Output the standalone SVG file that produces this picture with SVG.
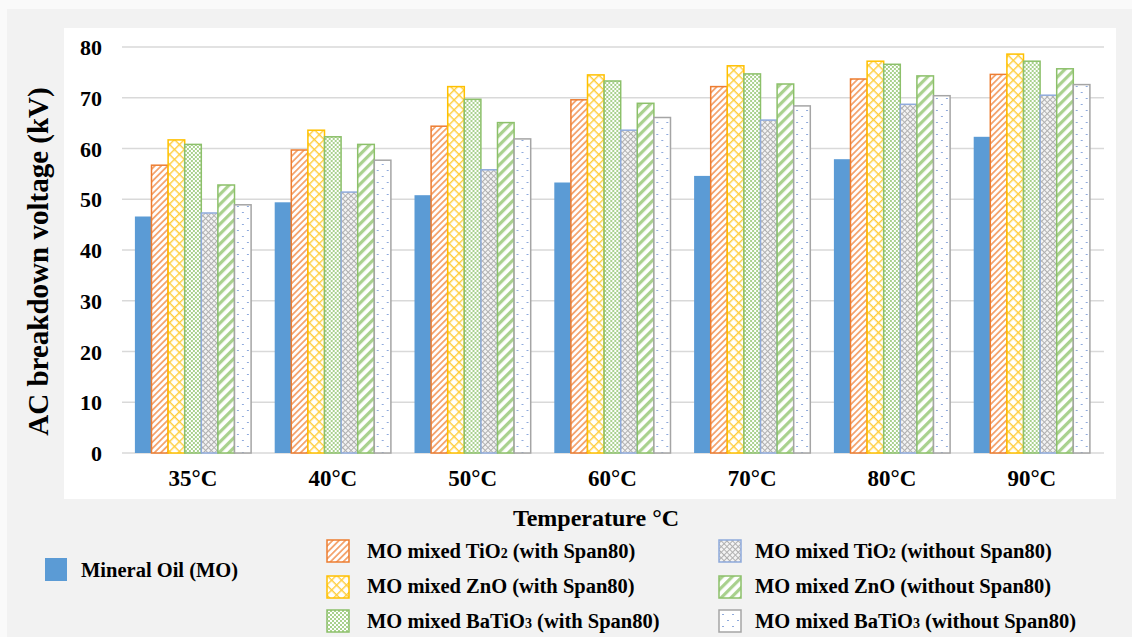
<svg xmlns="http://www.w3.org/2000/svg" width="1132" height="637" viewBox="0 0 1132 637">
<defs>
<pattern id="pOr" width="4.5" height="4.5" patternUnits="userSpaceOnUse" patternTransform="rotate(45)"><rect width="4.5" height="4.5" fill="#fff"/><rect width="1.8" height="4.5" fill="#f4a46f"/></pattern>
<pattern id="pYe" width="7" height="7" patternUnits="userSpaceOnUse" patternTransform="rotate(45)"><rect width="7" height="7" fill="#fff"/><rect width="7" height="1.4" fill="#ffcd3a"/><rect width="1.4" height="7" fill="#ffcd3a"/></pattern>
<pattern id="pGc" width="4" height="4" patternUnits="userSpaceOnUse"><rect width="4" height="4" fill="#fff"/><rect width="2" height="2" fill="#a9d18e"/><rect x="2" y="2" width="2" height="2" fill="#a9d18e"/></pattern>
<pattern id="pGy" width="4" height="4" patternUnits="userSpaceOnUse" patternTransform="rotate(45)"><rect width="4" height="4" fill="#f4f4f4"/><rect width="4" height="1" fill="#b0b0b0"/><rect width="1" height="4" fill="#b0b0b0"/></pattern>
<pattern id="pGs" width="7" height="7" patternUnits="userSpaceOnUse" patternTransform="rotate(45)"><rect width="7" height="7" fill="#fff"/><rect width="3.2" height="7" fill="#a9d18e"/></pattern>
<pattern id="pDt" width="10" height="12" patternUnits="userSpaceOnUse"><rect width="10" height="12" fill="#fff"/><rect x="2" y="2" width="2" height="1" fill="#8faadc"/><rect x="7" y="8" width="2" height="1" fill="#8faadc"/></pattern>
</defs>
<style>
text{font-family:"Liberation Serif","Times New Roman",serif;font-weight:bold;fill:#000}
.tick{font-size:22px;text-anchor:end}
.cat{font-size:23px;text-anchor:middle}
.leg{font-size:20.5px}
.sub{font-size:14px}
.grid{stroke:#d9d9d9;stroke-width:1.5}
.b1{fill:#5b9bd5}
.b2{fill:url(#pOr);stroke:#ed7d31;stroke-width:1.5}
.b3{fill:url(#pYe);stroke:#ffc000;stroke-width:1.5}
.b4{fill:url(#pGc);stroke:#8cc06a;stroke-width:1.5}
.b5{fill:url(#pGy);stroke:#8faadc;stroke-width:1.5}
.b6{fill:url(#pGs);stroke:#8cc06a;stroke-width:1.5}
.b7{fill:url(#pDt);stroke:#a5a5a5;stroke-width:1.5}
</style>
<rect width="1132" height="637" fill="#fafafa"/>
<rect x="7" y="9" width="1125" height="628" fill="#f2f2f2"/>
<rect x="64" y="28" width="1052" height="471" fill="#fff"/>
<g id="gridlines">
<line class="grid" x1="122" y1="47" x2="1104" y2="47"/>
<line class="grid" x1="122" y1="97.75" x2="1104" y2="97.75"/>
<line class="grid" x1="122" y1="148.5" x2="1104" y2="148.5"/>
<line class="grid" x1="122" y1="199.25" x2="1104" y2="199.25"/>
<line class="grid" x1="122" y1="250" x2="1104" y2="250"/>
<line class="grid" x1="122" y1="300.75" x2="1104" y2="300.75"/>
<line class="grid" x1="122" y1="351.5" x2="1104" y2="351.5"/>
<line class="grid" x1="122" y1="402.25" x2="1104" y2="402.25"/>
<line class="grid" x1="122" y1="453" x2="1104" y2="453"/>
</g>
<g id="y-axis">
<text class="tick" x="102" y="55">80</text>
<text class="tick" x="102" y="105.75">70</text>
<text class="tick" x="102" y="156.5">60</text>
<text class="tick" x="102" y="207.25">50</text>
<text class="tick" x="102" y="258">40</text>
<text class="tick" x="102" y="308.75">30</text>
<text class="tick" x="102" y="359.5">20</text>
<text class="tick" x="102" y="410.25">10</text>
<text class="tick" x="102" y="461">0</text>
<text transform="translate(48,261.5) rotate(-90)" text-anchor="middle" font-size="29">AC breakdown voltage (kV)</text>
</g>
<g id="g35" transform="translate(134.9,0)">
<rect class="b1" x="0" y="216.5" width="16.6" height="236.5"/>
<rect class="b2" x="16.6" y="165.2" width="16.6" height="287.8"/>
<rect class="b3" x="33.2" y="139.9" width="16.6" height="313.1"/>
<rect class="b4" x="49.8" y="144.4" width="16.6" height="308.6"/>
<rect class="b5" x="66.4" y="213" width="16.6" height="240"/>
<rect class="b6" x="83" y="185" width="16.6" height="268"/>
<rect class="b7" x="99.6" y="204.8" width="16.6" height="248.2"/>
</g>
<g id="g40" transform="translate(274.7,0)">
<rect class="b1" x="0" y="202.3" width="16.6" height="250.7"/>
<rect class="b2" x="16.6" y="150" width="16.6" height="303"/>
<rect class="b3" x="33.2" y="130.2" width="16.6" height="322.8"/>
<rect class="b4" x="49.8" y="136.8" width="16.6" height="316.2"/>
<rect class="b5" x="66.4" y="192.1" width="16.6" height="260.9"/>
<rect class="b6" x="83" y="144.4" width="16.6" height="308.6"/>
<rect class="b7" x="99.6" y="160.2" width="16.6" height="292.8"/>
</g>
<g id="g50" transform="translate(414.5,0)">
<rect class="b1" x="0" y="195.2" width="16.6" height="257.8"/>
<rect class="b2" x="16.6" y="126.2" width="16.6" height="326.8"/>
<rect class="b3" x="33.2" y="86.6" width="16.6" height="366.4"/>
<rect class="b4" x="49.8" y="99.3" width="16.6" height="353.7"/>
<rect class="b5" x="66.4" y="169.8" width="16.6" height="283.2"/>
<rect class="b6" x="83" y="122.6" width="16.6" height="330.4"/>
<rect class="b7" x="99.6" y="138.9" width="16.6" height="314.1"/>
</g>
<g id="g60" transform="translate(554.3,0)">
<rect class="b1" x="0" y="182.5" width="16.6" height="270.5"/>
<rect class="b2" x="16.6" y="99.8" width="16.6" height="353.2"/>
<rect class="b3" x="33.2" y="74.9" width="16.6" height="378.1"/>
<rect class="b4" x="49.8" y="81" width="16.6" height="372"/>
<rect class="b5" x="66.4" y="130.2" width="16.6" height="322.8"/>
<rect class="b6" x="83" y="103.3" width="16.6" height="349.7"/>
<rect class="b7" x="99.6" y="117.5" width="16.6" height="335.5"/>
</g>
<g id="g70" transform="translate(694.1,0)">
<rect class="b1" x="0" y="175.9" width="16.6" height="277.1"/>
<rect class="b2" x="16.6" y="86.6" width="16.6" height="366.4"/>
<rect class="b3" x="33.2" y="65.8" width="16.6" height="387.2"/>
<rect class="b4" x="49.8" y="73.9" width="16.6" height="379.1"/>
<rect class="b5" x="66.4" y="120.1" width="16.6" height="332.9"/>
<rect class="b6" x="83" y="84" width="16.6" height="369"/>
<rect class="b7" x="99.6" y="105.9" width="16.6" height="347.1"/>
</g>
<g id="g80" transform="translate(833.9,0)">
<rect class="b1" x="0" y="159.2" width="16.6" height="293.8"/>
<rect class="b2" x="16.6" y="79" width="16.6" height="374"/>
<rect class="b3" x="33.2" y="61.2" width="16.6" height="391.8"/>
<rect class="b4" x="49.8" y="64.3" width="16.6" height="388.7"/>
<rect class="b5" x="66.4" y="104.3" width="16.6" height="348.7"/>
<rect class="b6" x="83" y="75.9" width="16.6" height="377.1"/>
<rect class="b7" x="99.6" y="95.7" width="16.6" height="357.3"/>
</g>
<g id="g90" transform="translate(973.7,0)">
<rect class="b1" x="0" y="136.8" width="16.6" height="316.2"/>
<rect class="b2" x="16.6" y="74.4" width="16.6" height="378.6"/>
<rect class="b3" x="33.2" y="54.1" width="16.6" height="398.9"/>
<rect class="b4" x="49.8" y="61.2" width="16.6" height="391.8"/>
<rect class="b5" x="66.4" y="95.2" width="16.6" height="357.8"/>
<rect class="b6" x="83" y="68.8" width="16.6" height="384.2"/>
<rect class="b7" x="99.6" y="84.6" width="16.6" height="368.4"/>
</g>
<g id="x-axis">
<text class="cat" x="193" y="486">35°C</text>
<text class="cat" x="332.8" y="486">40°C</text>
<text class="cat" x="472.6" y="486">50°C</text>
<text class="cat" x="612.4" y="486">60°C</text>
<text class="cat" x="752.2" y="486">70°C</text>
<text class="cat" x="892" y="486">80°C</text>
<text class="cat" x="1031.8" y="486">90°C</text>
<text x="596" y="526" text-anchor="middle" font-size="24">Temperature °C</text>
</g>
<g id="legend">
<rect class="b1" x="45" y="558" width="22" height="23"/>
<text class="leg" x="81" y="577">Mineral Oil (MO)</text>
<rect class="b2" x="327" y="540" width="22" height="22"/>
<text class="leg" x="367" y="558">MO mixed TiO<tspan class="sub">2</tspan> (with Span80)</text>
<rect class="b3" x="327" y="576" width="22" height="22"/>
<text class="leg" x="367" y="593">MO mixed ZnO (with Span80)</text>
<rect class="b4" x="327" y="610" width="22" height="22"/>
<text class="leg" x="367" y="628">MO mixed BaTiO<tspan class="sub">3</tspan> (with Span80)</text>
<rect class="b5" x="719" y="540" width="22" height="22"/>
<text class="leg" x="755" y="558">MO mixed TiO<tspan class="sub">2</tspan> (without Span80)</text>
<rect class="b6" x="719" y="576" width="22" height="22"/>
<text class="leg" x="755" y="593">MO mixed ZnO (without Span80)</text>
<rect class="b7" x="719" y="610" width="22" height="22"/>
<text class="leg" x="755" y="628">MO mixed BaTiO<tspan class="sub">3</tspan> (without Span80)</text>
</g>
</svg>
